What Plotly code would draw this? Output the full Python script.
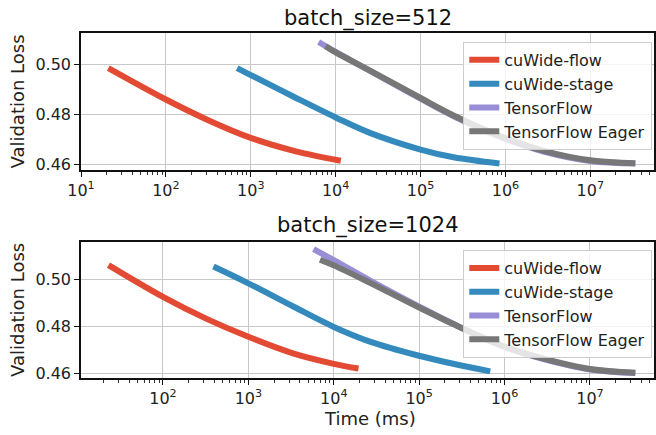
import numpy as np
import plotly.graph_objects as go

# ---------------- data ----------------
series_names = ["cuWide-flow", "cuWide-stage", "TensorFlow", "TensorFlow Eager"]
colors = ["#E24A33", "#348ABD", "#988ED5", "#777777"]
panel_titles = ["batch_size=512", "batch_size=1024"]
x_title = "Time (ms)"
y_title = "Validation Loss"

# batch_size=512
b512_flow_x = [21, 100, 320, 1000, 3400, 11500]
b512_flow_y = [0.4987, 0.4861, 0.4777, 0.4707, 0.4653, 0.4615]
b512_stage_x = [690, 1000, 3160, 10000, 25700, 100000, 245000, 850000]
b512_stage_y = [0.4987, 0.4959, 0.4873, 0.4789, 0.4726, 0.4660, 0.4629, 0.4604]
b512_tf_x = [6300, 10000, 25700, 100000, 245000, 1000000, 2820000, 10000000, 33900000]
b512_tf_y = [0.5092, 0.5052, 0.4975, 0.4864, 0.4794, 0.4703, 0.4652, 0.4614, 0.4604]
b512_eager_x = [7600, 10000, 25700, 100000, 245000, 1000000, 2820000, 10000000, 33900000]
b512_eager_y = [0.5075, 0.5050, 0.4976, 0.4867, 0.4797, 0.4706, 0.4655, 0.4617, 0.4605]

# batch_size=1024
b1024_flow_x = [23, 100, 320, 1000, 3400, 10000, 19500]
b1024_flow_y = [0.5059, 0.4925, 0.4833, 0.4756, 0.4685, 0.4642, 0.4622]
b1024_stage_x = [390, 1000, 3400, 10000, 27000, 100000, 250000, 680000]
b1024_stage_y = [0.5053, 0.4982, 0.4883, 0.4798, 0.4735, 0.4676, 0.4642, 0.4610]
b1024_tf_x = [5800, 10000, 27000, 100000, 250000, 1000000, 2800000, 10000000, 34000000]
b1024_tf_y = [0.5127, 0.5080, 0.4993, 0.4884, 0.4811, 0.4713, 0.4663, 0.4618, 0.4603]
b1024_eager_x = [6900, 10000, 27000, 100000, 250000, 1000000, 2800000, 10000000, 34000000]
b1024_eager_y = [0.5082, 0.5058, 0.4983, 0.4880, 0.4810, 0.4715, 0.4665, 0.4620, 0.4604]

y_tick_vals = [0.46, 0.48, 0.50]
x_tick_exps = [1, 2, 3, 4, 5, 6, 7]

panels = [
    [(b512_flow_x, b512_flow_y), (b512_stage_x, b512_stage_y),
     (b512_tf_x, b512_tf_y), (b512_eager_x, b512_eager_y)],
    [(b1024_flow_x, b1024_flow_y), (b1024_stage_x, b1024_stage_y),
     (b1024_tf_x, b1024_tf_y), (b1024_eager_x, b1024_eager_y)],
]

FONT = "DejaVu Sans"
fig = go.Figure()

for p, series in enumerate(panels):
    xa = "x" if p == 0 else "x2"
    ya = "y" if p == 0 else "y2"
    lg = "legend" if p == 0 else "legend2"
    for i, (xs, ys) in enumerate(series):
        fig.add_trace(go.Scatter(
            x=xs, y=ys, mode="lines", name=series_names[i],
            line=dict(color=colors[i], width=6, shape="spline", smoothing=1.0),
            xaxis=xa, yaxis=ya, legend=lg, showlegend=True,
        ))

tickvals = [10 ** e for e in x_tick_exps]
ticktext = ["10<sup>%d</sup>" % e for e in x_tick_exps]
minor_vals = [m * 10 ** e for e in range(1, 8) for m in range(2, 10)]

common_x = dict(
    type="log", showline=True, mirror=True, linecolor="#111", linewidth=1.5,
    showgrid=True, gridcolor="#c8c8c8", gridwidth=1,
    ticks="outside", ticklen=5, tickwidth=1.2, tickcolor="#111",
    tickmode="array", tickvals=tickvals, ticktext=ticktext,
    tickfont=dict(family=FONT, size=16, color="#222"),
    minor=dict(tickmode="array", tickvals=minor_vals, ticks="outside",
               ticklen=3, tickwidth=1, tickcolor="#333", showgrid=False),
    zeroline=False, automargin=False,
)
common_y = dict(
    showline=True, mirror=True, linecolor="#111", linewidth=1.5,
    showgrid=True, gridcolor="#c8c8c8", gridwidth=1,
    ticks="outside", ticklen=5, tickwidth=1.2, tickcolor="#111",
    tickmode="array", tickvals=y_tick_vals, tickformat=".2f",
    tickfont=dict(family=FONT, size=16, color="#222"),
    title=dict(text=y_title, font=dict(family=FONT, size=18, color="#222"), standoff=6),
    zeroline=False, automargin=False,
)

legend_common = dict(
    xref="paper", yref="paper", x=0.997, xanchor="right", yanchor="top",
    bgcolor="rgba(255,255,255,0.8)", bordercolor="#cccccc", borderwidth=1,
    font=dict(family=FONT, size=16, color="#222"),
)

fig.update_layout(
    width=656, height=435,
    margin=dict(l=81, r=2, t=33, b=57, autoexpand=False),
    paper_bgcolor="white", plot_bgcolor="white",
    font=dict(family=FONT, color="#222"),
    xaxis=dict(common_x, domain=[0, 1], anchor="y", range=[1.0, 7.75]),
    yaxis=dict(common_y, domain=[0.603, 1.0], anchor="x", range=[0.4578, 0.5128]),
    xaxis2=dict(common_x, domain=[0, 1], anchor="y2", range=[1.04, 7.75]),
    yaxis2=dict(common_y, domain=[0.0, 0.395], anchor="x2", range=[0.4582, 0.5158]),
    legend=dict(legend_common, y=0.974),
    legend2=dict(legend_common, y=0.371),
    annotations=[
        dict(text=panel_titles[0], xref="paper", yref="paper", x=0.5, y=1.041,
             xanchor="center", yanchor="middle", showarrow=False,
             font=dict(family=FONT, size=21, color="#111")),
        dict(text=panel_titles[1], xref="paper", yref="paper", x=0.5, y=0.442,
             xanchor="center", yanchor="middle", showarrow=False,
             font=dict(family=FONT, size=21, color="#111")),
        dict(text=x_title, xref="paper", yref="paper", x=0.505, y=-0.116,
             xanchor="center", yanchor="middle", showarrow=False, borderpad=0,
             font=dict(family=FONT, size=18, color="#222")),
    ],
)

fig.write_html("out.html", config={"displayModeBar": False},
               post_script="document.body.style.margin='0';document.body.style.overflow='hidden';")
